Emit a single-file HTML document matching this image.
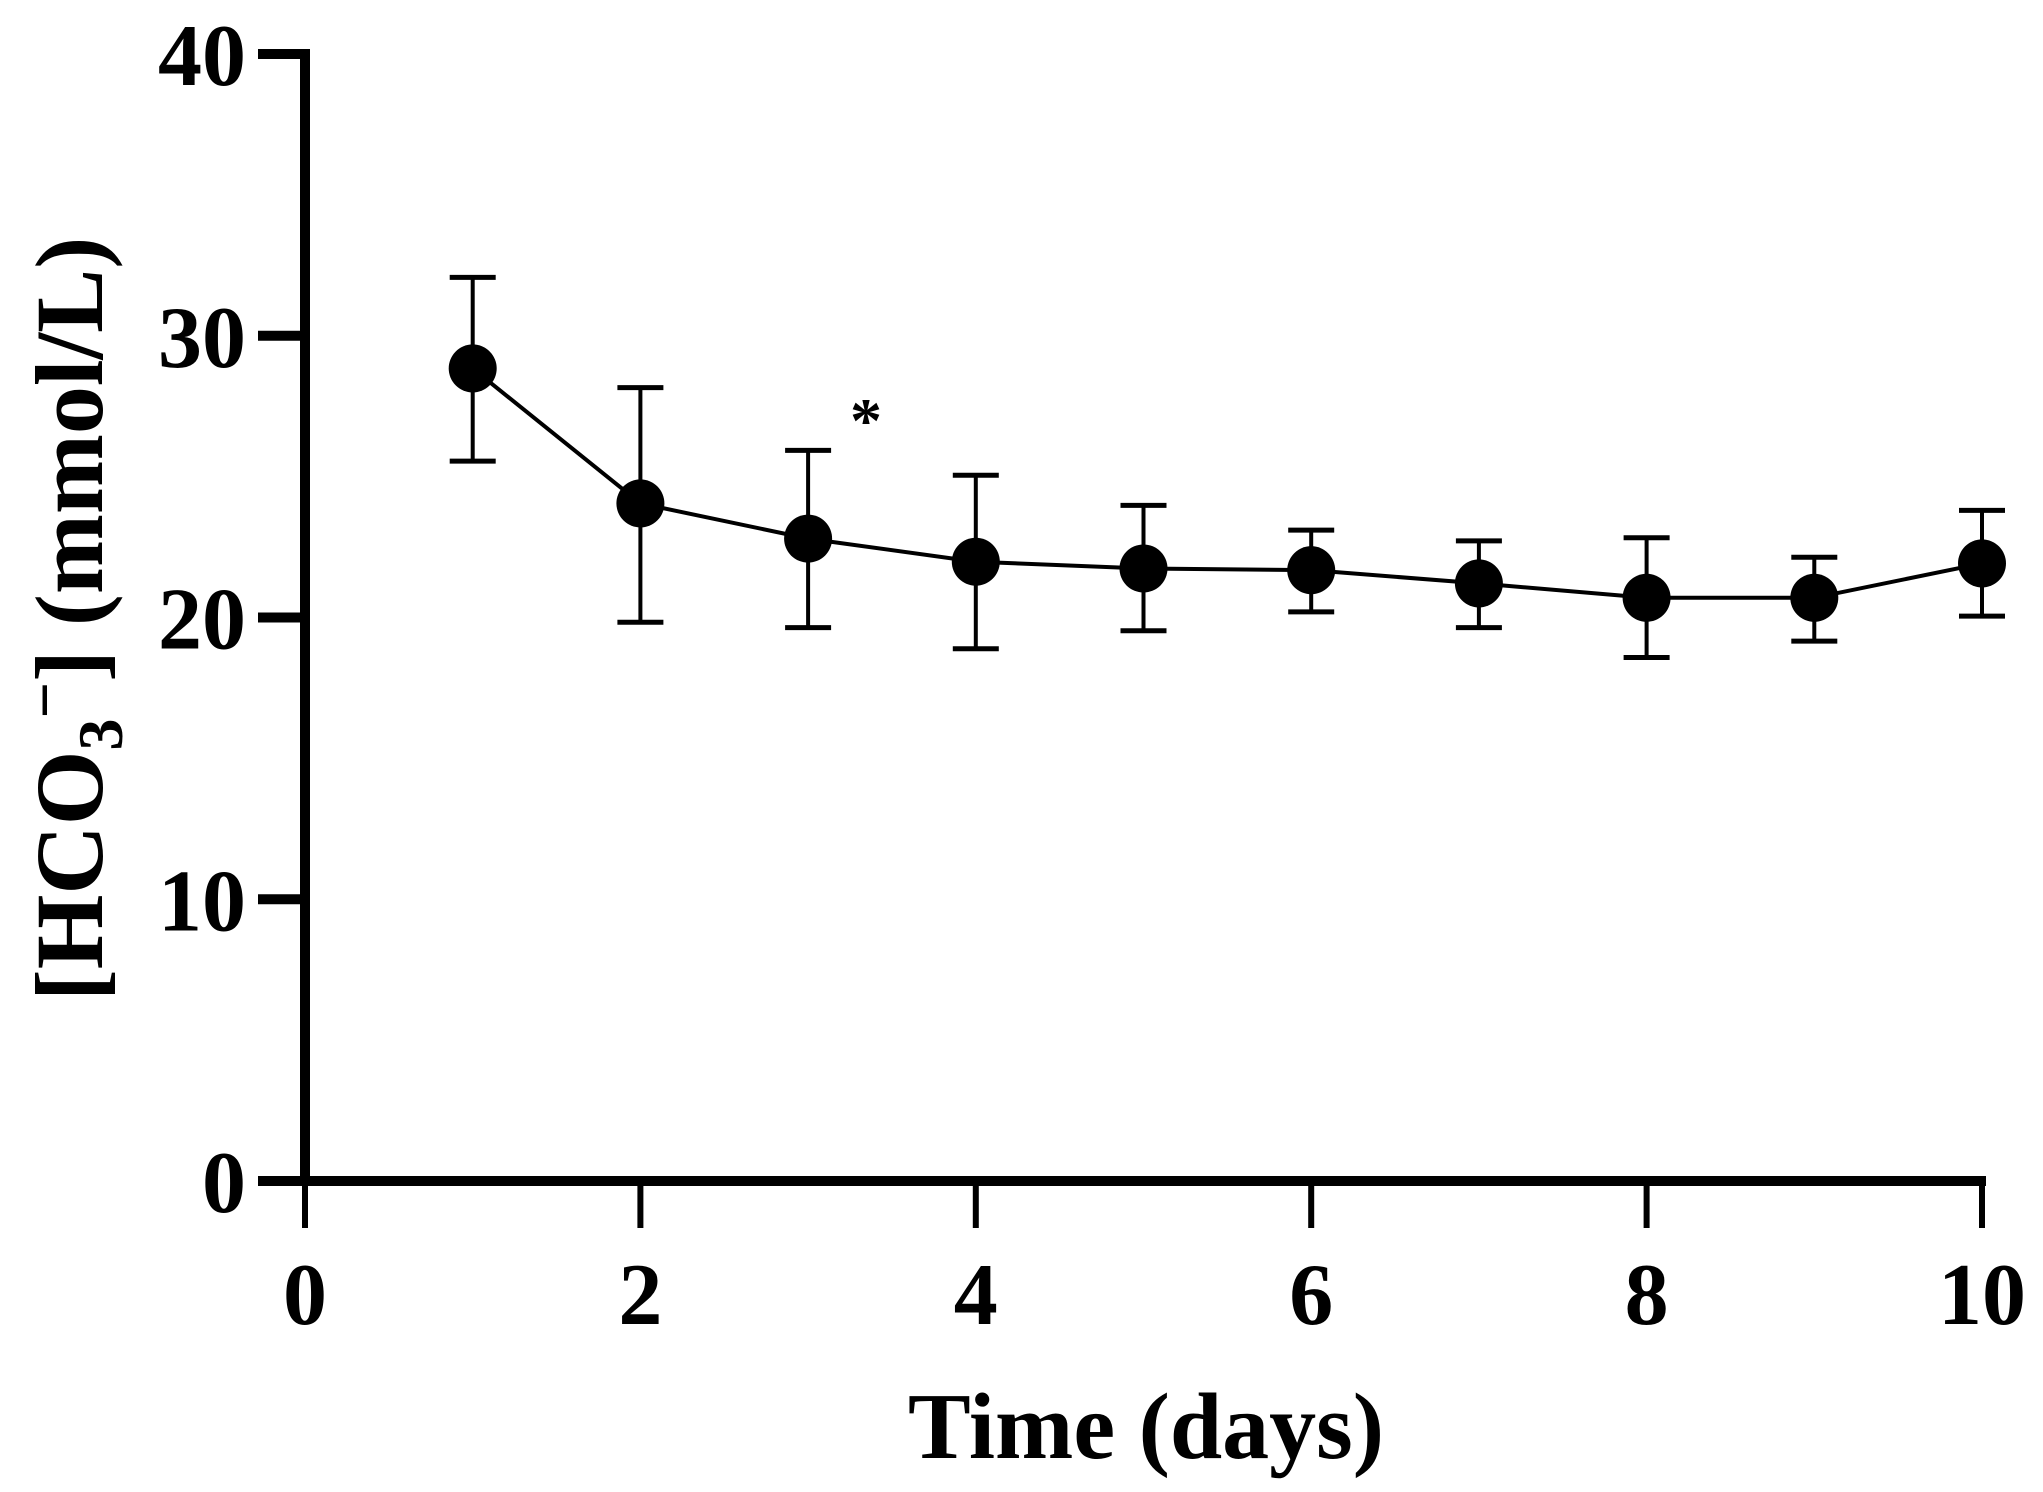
<!DOCTYPE html>
<html><head><meta charset="utf-8"><style>
html,body{margin:0;padding:0;background:#fff;}
svg{display:block;}
text{font-family:"Liberation Serif",serif;font-weight:bold;fill:#000;}
</style></head><body>
<svg id="chart" width="2043" height="1492" viewBox="0 0 2043 1492">
<g id="axes"></g>
<g id="series"></g>
<text x="866" y="442" font-size="64" text-anchor="middle">*</text>
<text x="1146" y="1458" font-size="94" text-anchor="middle">Time (days)</text>
<text transform="translate(102,619) rotate(-90)" font-size="96" text-anchor="middle">[HCO<tspan font-size="64" dy="20">3</tspan><tspan font-size="64" dy="-56">−</tspan><tspan dy="36">] (mmol/L)</tspan></text>
</svg>
<script>
const days = [1,2,3,4,5,6,7,8,9,10];
const means = [28.84,24.05,22.8,21.98,21.74,21.68,21.21,20.7,20.7,21.92];
const upper = [32.07,28.16,25.93,25.05,23.98,23.1,22.72,22.83,22.14,23.8];
const lower = [25.55,19.83,19.64,18.89,19.53,20.2,19.64,18.58,19.16,20.05];
const xTicks = [0,2,4,6,8,10];
const yTicks = [0,10,20,30,40];

const X0=305,X1=1982,Y0=1181,Y1=54;
function xs(v){return X0+(X1-X0)*v/10;}
function ys(v){return Y0-(Y0-Y1)*v/40;}
const NS="http://www.w3.org/2000/svg";
function mk(tag,attrs,parent){const e=document.createElementNS(NS,tag);for(const k in attrs)e.setAttribute(k,attrs[k]);parent.appendChild(e);return e;}
const ax=document.getElementById('axes'), sr=document.getElementById('series');

let l=mk('line',{x1:X0,y1:Y1-5,x2:X0,y2:Y0+5,stroke:'#000','stroke-width':10},ax);


l=mk('line',{x1:258,y1:Y0,x2:X1+4,y2:Y0,stroke:'#000','stroke-width':10},ax);


yTicks.forEach(v=>{
  const t=mk('line',{x1:258,y1:ys(v),x2:X0,y2:ys(v),stroke:'#000','stroke-width':10},ax);
  
  
  const tx=mk('text',{x:246,y:ys(v)+31,'font-size':88,'text-anchor':'end'},ax);
  tx.textContent=v;
  
  
});
xTicks.forEach(v=>{
  const t=mk('line',{x1:xs(v),y1:Y0,x2:xs(v),y2:1228,stroke:'#000','stroke-width':6},ax);
  
  
  const tx=mk('text',{x:xs(v),y:1324,'font-size':88,'text-anchor':'middle'},ax);
  tx.textContent=v;
  
  
});
const pts=days.map((d,i)=>xs(d)+','+ys(means[i])).join(' ');
const pl=mk('polyline',{points:pts,fill:'none',stroke:'#000','stroke-width':4},sr);


days.forEach((d,i)=>{
  const x=xs(d);
  const g=mk('g',{},sr);
  
  
  mk('line',{x1:x,y1:ys(upper[i]),x2:x,y2:ys(lower[i]),stroke:'#000','stroke-width':4},g);
  mk('line',{x1:x-23,y1:ys(upper[i]),x2:x+23,y2:ys(upper[i]),stroke:'#000','stroke-width':5},g);
  mk('line',{x1:x-23,y1:ys(lower[i]),x2:x+23,y2:ys(lower[i]),stroke:'#000','stroke-width':5},g);
  const c=mk('circle',{cx:x,cy:ys(means[i]),r:24,fill:'#000'},sr);
  
  
});
</script>
</body></html>
